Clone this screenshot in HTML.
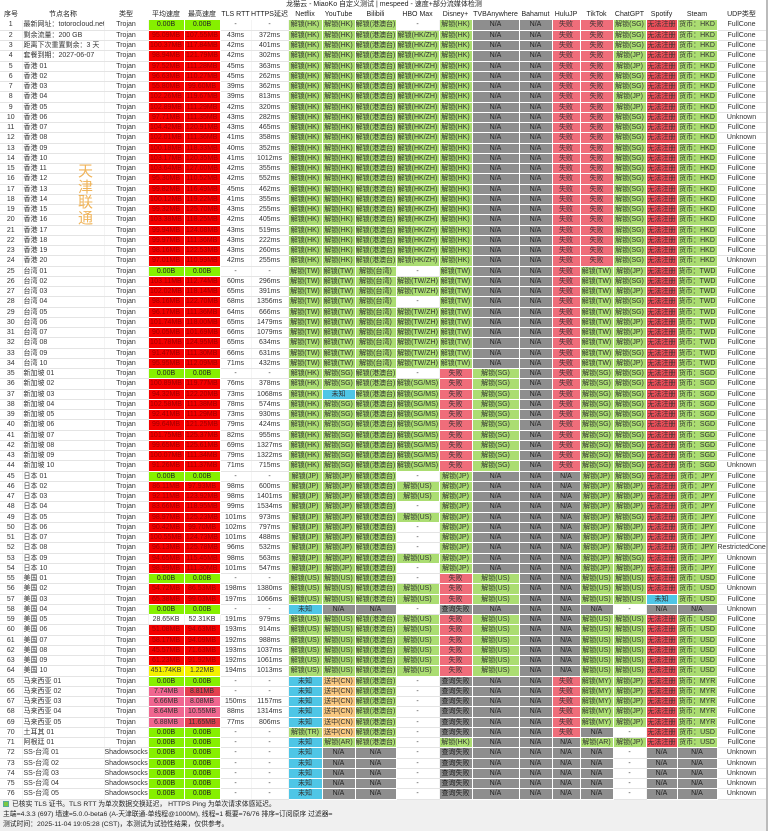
<!DOCTYPE html><html><head><meta charset="utf-8"><style>
*{margin:0;padding:0;box-sizing:border-box}
body{width:768px;height:831px;background:#fff;font-family:"Liberation Sans","Noto Sans CJK SC",sans-serif;position:relative;overflow:hidden;color:#333}
#title{position:absolute;left:0;top:0;width:768px;height:9px;font-size:7px;line-height:9px;text-align:center;color:#222}
table{position:absolute;left:0;top:9px;border-collapse:collapse;table-layout:fixed;width:766px}
td,th{font-size:7px;height:10.26px;line-height:9px;text-align:center;white-space:nowrap;overflow:hidden;border-bottom:1px solid #e4e4e4;border-right:1px solid #f4f4f4;padding:0;font-weight:normal}
th{height:11px;border:none;color:#222;font-size:7px}
td.l{text-align:left;padding-left:1px}
.g{background:#abdd72;border-color:#fff}
.r{background:#ef6d7a;border-color:#fff}
.d{background:#ea4d58;border-color:#fff}
.n{background:#8e8e8e;border-color:#fff;color:#222}
.b{background:#4fc6e6;border-color:#fff}
.o{background:#f8c880;border-color:#fff}
.sr{background:#f50000;color:#a00000;border-color:#fff}
.sg{background:#86f000;border-color:#fff;color:#222}
.sy{background:#f4f000;border-color:#fff}
.sp{background:#f06690;border-color:#fff}
.spd{background:#e4404f;border-color:#fff}
#wm{position:absolute;left:78px;top:163px;font-size:15px;line-height:15.5px;color:#f0b45a;width:16px;font-family:"Noto Sans CJK SC",sans-serif}
#foot{position:absolute;left:0;top:800px;width:768px;height:31px;background:#f0f0f0;font-size:6.8px;line-height:10px;padding-left:3px;color:#222}
#foot .cb{display:inline-block;width:6px;height:6px;background:#7ac943;border:1px solid #5a9;margin-right:3px;vertical-align:-1px}
#sb{position:absolute;right:0;top:0;width:2px;height:831px;background:#bbb}
</style></head><body>
<div id="title">龙猫云 - MiaoKo 自定义测试 | mespeed - 速度+部分流媒体检测</div>
<table>
<colgroup><col style="width:22px"><col style="width:82px"><col style="width:44px"><col style="width:36px"><col style="width:36px"><col style="width:31px"><col style="width:37px"><col style="width:34px"><col style="width:33px"><col style="width:41px"><col style="width:43px"><col style="width:33px"><col style="width:47px"><col style="width:33px"><col style="width:28px"><col style="width:33px"><col style="width:33px"><col style="width:31px"><col style="width:40px"><col style="width:49px"></colgroup>
<tr><th>序号</th><th>节点名称</th><th>类型</th><th>平均速度</th><th>最高速度</th><th>TLS RTT</th><th>HTTPS延迟</th><th>Netflix</th><th>YouTube</th><th>Bilibili</th><th>HBO Max</th><th>Disney+</th><th>TVBAnywhere</th><th>Bahamut</th><th>HuluJP</th><th>TikTok</th><th>ChatGPT</th><th>Spotify</th><th>Steam</th><th>UDP类型</th></tr>
<tr><td>1</td><td class=l>最新网址：totorocloud.net</td><td>Trojan</td><td class=sg>0.00B</td><td class=sg>0.00B</td><td>-</td><td>-</td><td class=g>解锁(HK)</td><td class=g>解锁(HK)</td><td class=g>解锁(港澳台)</td><td>-</td><td class=g>解锁(HK)</td><td class=n>N/A</td><td class=n>N/A</td><td class=r>失败</td><td class=r>失败</td><td class=g>解锁(SG)</td><td class=d>无法注册</td><td class=g>货币：HKD</td><td>FullCone</td></tr>
<tr><td>2</td><td class=l>剩余流量：200 GB</td><td>Trojan</td><td class=sr>95.09MB</td><td class=sr>107.55MB</td><td>43ms</td><td>372ms</td><td class=g>解锁(HK)</td><td class=g>解锁(HK)</td><td class=g>解锁(港澳台)</td><td class=g>解锁(HK/ZH)</td><td class=g>解锁(HK)</td><td class=n>N/A</td><td class=n>N/A</td><td class=r>失败</td><td class=r>失败</td><td class=g>解锁(SG)</td><td class=d>无法注册</td><td class=g>货币：HKD</td><td>FullCone</td></tr>
<tr><td>3</td><td class=l>距离下次重置剩余：3 天</td><td>Trojan</td><td class=sr>100.37MB</td><td class=sr>117.84MB</td><td>42ms</td><td>401ms</td><td class=g>解锁(HK)</td><td class=g>解锁(HK)</td><td class=g>解锁(港澳台)</td><td class=g>解锁(HK/ZH)</td><td class=g>解锁(HK)</td><td class=n>N/A</td><td class=n>N/A</td><td class=r>失败</td><td class=r>失败</td><td class=g>解锁(SG)</td><td class=d>无法注册</td><td class=g>货币：HKD</td><td>FullCone</td></tr>
<tr><td>4</td><td class=l>套餐到期：2027-06-07</td><td>Trojan</td><td class=sr>98.94MB</td><td class=sr>121.79MB</td><td>42ms</td><td>302ms</td><td class=g>解锁(HK)</td><td class=g>解锁(HK)</td><td class=g>解锁(港澳台)</td><td class=g>解锁(HK/ZH)</td><td class=g>解锁(HK)</td><td class=n>N/A</td><td class=n>N/A</td><td class=r>失败</td><td class=r>失败</td><td class=g>解锁(JP)</td><td class=d>无法注册</td><td class=g>货币：HKD</td><td>FullCone</td></tr>
<tr><td>5</td><td class=l>香港 01</td><td>Trojan</td><td class=sr>97.52MB</td><td class=sr>111.28MB</td><td>45ms</td><td>363ms</td><td class=g>解锁(HK)</td><td class=g>解锁(HK)</td><td class=g>解锁(港澳台)</td><td class=g>解锁(HK/ZH)</td><td class=g>解锁(HK)</td><td class=n>N/A</td><td class=n>N/A</td><td class=r>失败</td><td class=r>失败</td><td class=g>解锁(JP)</td><td class=d>无法注册</td><td class=g>货币：HKD</td><td>FullCone</td></tr>
<tr><td>6</td><td class=l>香港 02</td><td>Trojan</td><td class=sr>96.63MB</td><td class=sr>110.27MB</td><td>45ms</td><td>262ms</td><td class=g>解锁(HK)</td><td class=g>解锁(HK)</td><td class=g>解锁(港澳台)</td><td class=g>解锁(HK/ZH)</td><td class=g>解锁(HK)</td><td class=n>N/A</td><td class=n>N/A</td><td class=r>失败</td><td class=r>失败</td><td class=g>解锁(SG)</td><td class=d>无法注册</td><td class=g>货币：HKD</td><td>FullCone</td></tr>
<tr><td>7</td><td class=l>香港 03</td><td>Trojan</td><td class=sr>55.80MB</td><td class=sr>99.60MB</td><td>39ms</td><td>362ms</td><td class=g>解锁(HK)</td><td class=g>解锁(HK)</td><td class=g>解锁(港澳台)</td><td class=g>解锁(HK/ZH)</td><td class=g>解锁(HK)</td><td class=n>N/A</td><td class=n>N/A</td><td class=r>失败</td><td class=r>失败</td><td class=g>解锁(SG)</td><td class=d>无法注册</td><td class=g>货币：HKD</td><td>FullCone</td></tr>
<tr><td>8</td><td class=l>香港 04</td><td>Trojan</td><td class=sr>102.26MB</td><td class=sr>119.67MB</td><td>39ms</td><td>813ms</td><td class=g>解锁(HK)</td><td class=g>解锁(HK)</td><td class=g>解锁(港澳台)</td><td class=g>解锁(HK/ZH)</td><td class=g>解锁(HK)</td><td class=n>N/A</td><td class=n>N/A</td><td class=r>失败</td><td class=r>失败</td><td class=g>解锁(JP)</td><td class=d>无法注册</td><td class=g>货币：HKD</td><td>FullCone</td></tr>
<tr><td>9</td><td class=l>香港 05</td><td>Trojan</td><td class=sr>102.89MB</td><td class=sr>111.29MB</td><td>42ms</td><td>320ms</td><td class=g>解锁(HK)</td><td class=g>解锁(HK)</td><td class=g>解锁(港澳台)</td><td class=g>解锁(HK/ZH)</td><td class=g>解锁(HK)</td><td class=n>N/A</td><td class=n>N/A</td><td class=r>失败</td><td class=r>失败</td><td class=g>解锁(JP)</td><td class=d>无法注册</td><td class=g>货币：HKD</td><td>FullCone</td></tr>
<tr><td>10</td><td class=l>香港 06</td><td>Trojan</td><td class=sr>97.71MB</td><td class=sr>111.35MB</td><td>43ms</td><td>282ms</td><td class=g>解锁(HK)</td><td class=g>解锁(HK)</td><td class=g>解锁(港澳台)</td><td class=g>解锁(HK/ZH)</td><td class=g>解锁(HK)</td><td class=n>N/A</td><td class=n>N/A</td><td class=r>失败</td><td class=r>失败</td><td class=g>解锁(SG)</td><td class=d>无法注册</td><td class=g>货币：HKD</td><td>Unknown</td></tr>
<tr><td>11</td><td class=l>香港 07</td><td>Trojan</td><td class=sr>104.42MB</td><td class=sr>120.91MB</td><td>43ms</td><td>465ms</td><td class=g>解锁(HK)</td><td class=g>解锁(HK)</td><td class=g>解锁(港澳台)</td><td class=g>解锁(HK/ZH)</td><td class=g>解锁(HK)</td><td class=n>N/A</td><td class=n>N/A</td><td class=r>失败</td><td class=r>失败</td><td class=g>解锁(SG)</td><td class=d>无法注册</td><td class=g>货币：HKD</td><td>FullCone</td></tr>
<tr><td>12</td><td class=l>香港 08</td><td>Trojan</td><td class=sr>102.01MB</td><td class=sr>111.36MB</td><td>41ms</td><td>358ms</td><td class=g>解锁(HK)</td><td class=g>解锁(HK)</td><td class=g>解锁(港澳台)</td><td class=g>解锁(HK/ZH)</td><td class=g>解锁(HK)</td><td class=n>N/A</td><td class=n>N/A</td><td class=r>失败</td><td class=r>失败</td><td class=g>解锁(SG)</td><td class=d>无法注册</td><td class=g>货币：HKD</td><td>Unknown</td></tr>
<tr><td>13</td><td class=l>香港 09</td><td>Trojan</td><td class=sr>100.18MB</td><td class=sr>118.33MB</td><td>40ms</td><td>352ms</td><td class=g>解锁(HK)</td><td class=g>解锁(HK)</td><td class=g>解锁(港澳台)</td><td class=g>解锁(HK/ZH)</td><td class=g>解锁(HK)</td><td class=n>N/A</td><td class=n>N/A</td><td class=r>失败</td><td class=r>失败</td><td class=g>解锁(SG)</td><td class=d>无法注册</td><td class=g>货币：HKD</td><td>FullCone</td></tr>
<tr><td>14</td><td class=l>香港 10</td><td>Trojan</td><td class=sr>103.17MB</td><td class=sr>120.35MB</td><td>41ms</td><td>1012ms</td><td class=g>解锁(HK)</td><td class=g>解锁(HK)</td><td class=g>解锁(港澳台)</td><td class=g>解锁(HK/ZH)</td><td class=g>解锁(HK)</td><td class=n>N/A</td><td class=n>N/A</td><td class=r>失败</td><td class=r>失败</td><td class=g>解锁(SG)</td><td class=d>无法注册</td><td class=g>货币：HKD</td><td>FullCone</td></tr>
<tr><td>15</td><td class=l>香港 11</td><td>Trojan</td><td class=sr>103.64MB</td><td class=sr>127.00MB</td><td>42ms</td><td>355ms</td><td class=g>解锁(HK)</td><td class=g>解锁(HK)</td><td class=g>解锁(港澳台)</td><td class=g>解锁(HK/ZH)</td><td class=g>解锁(HK)</td><td class=n>N/A</td><td class=n>N/A</td><td class=r>失败</td><td class=r>失败</td><td class=g>解锁(SG)</td><td class=d>无法注册</td><td class=g>货币：HKD</td><td>FullCone</td></tr>
<tr><td>16</td><td class=l>香港 12</td><td>Trojan</td><td class=sr>95.30MB</td><td class=sr>110.52MB</td><td>42ms</td><td>552ms</td><td class=g>解锁(HK)</td><td class=g>解锁(HK)</td><td class=g>解锁(港澳台)</td><td class=g>解锁(HK/ZH)</td><td class=g>解锁(HK)</td><td class=n>N/A</td><td class=n>N/A</td><td class=r>失败</td><td class=r>失败</td><td class=g>解锁(SG)</td><td class=d>无法注册</td><td class=g>货币：HKD</td><td>FullCone</td></tr>
<tr><td>17</td><td class=l>香港 13</td><td>Trojan</td><td class=sr>99.82MB</td><td class=sr>116.49MB</td><td>45ms</td><td>462ms</td><td class=g>解锁(HK)</td><td class=g>解锁(HK)</td><td class=g>解锁(港澳台)</td><td class=g>解锁(HK/ZH)</td><td class=g>解锁(HK)</td><td class=n>N/A</td><td class=n>N/A</td><td class=r>失败</td><td class=r>失败</td><td class=g>解锁(SG)</td><td class=d>无法注册</td><td class=g>货币：HKD</td><td>FullCone</td></tr>
<tr><td>18</td><td class=l>香港 14</td><td>Trojan</td><td class=sr>100.12MB</td><td class=sr>119.22MB</td><td>41ms</td><td>355ms</td><td class=g>解锁(HK)</td><td class=g>解锁(HK)</td><td class=g>解锁(港澳台)</td><td class=g>解锁(HK/ZH)</td><td class=g>解锁(HK)</td><td class=n>N/A</td><td class=n>N/A</td><td class=r>失败</td><td class=r>失败</td><td class=g>解锁(SG)</td><td class=d>无法注册</td><td class=g>货币：HKD</td><td>FullCone</td></tr>
<tr><td>19</td><td class=l>香港 15</td><td>Trojan</td><td class=sr>99.32MB</td><td class=sr>125.70MB</td><td>43ms</td><td>255ms</td><td class=g>解锁(HK)</td><td class=g>解锁(HK)</td><td class=g>解锁(港澳台)</td><td class=g>解锁(HK/ZH)</td><td class=g>解锁(HK)</td><td class=n>N/A</td><td class=n>N/A</td><td class=r>失败</td><td class=r>失败</td><td class=g>解锁(SG)</td><td class=d>无法注册</td><td class=g>货币：HKD</td><td>FullCone</td></tr>
<tr><td>20</td><td class=l>香港 16</td><td>Trojan</td><td class=sr>103.38MB</td><td class=sr>118.25MB</td><td>42ms</td><td>405ms</td><td class=g>解锁(HK)</td><td class=g>解锁(HK)</td><td class=g>解锁(港澳台)</td><td class=g>解锁(HK/ZH)</td><td class=g>解锁(HK)</td><td class=n>N/A</td><td class=n>N/A</td><td class=r>失败</td><td class=r>失败</td><td class=g>解锁(SG)</td><td class=d>无法注册</td><td class=g>货币：HKD</td><td>FullCone</td></tr>
<tr><td>21</td><td class=l>香港 17</td><td>Trojan</td><td class=sr>99.94MB</td><td class=sr>124.08MB</td><td>43ms</td><td>519ms</td><td class=g>解锁(HK)</td><td class=g>解锁(HK)</td><td class=g>解锁(港澳台)</td><td class=g>解锁(HK/ZH)</td><td class=g>解锁(HK)</td><td class=n>N/A</td><td class=n>N/A</td><td class=r>失败</td><td class=r>失败</td><td class=g>解锁(SG)</td><td class=d>无法注册</td><td class=g>货币：HKD</td><td>FullCone</td></tr>
<tr><td>22</td><td class=l>香港 18</td><td>Trojan</td><td class=sr>99.97MB</td><td class=sr>111.36MB</td><td>43ms</td><td>222ms</td><td class=g>解锁(HK)</td><td class=g>解锁(HK)</td><td class=g>解锁(港澳台)</td><td class=g>解锁(HK/ZH)</td><td class=g>解锁(HK)</td><td class=n>N/A</td><td class=n>N/A</td><td class=r>失败</td><td class=r>失败</td><td class=g>解锁(SG)</td><td class=d>无法注册</td><td class=g>货币：HKD</td><td>FullCone</td></tr>
<tr><td>23</td><td class=l>香港 19</td><td>Trojan</td><td class=sr>98.16MB</td><td class=sr>122.53MB</td><td>43ms</td><td>260ms</td><td class=g>解锁(HK)</td><td class=g>解锁(HK)</td><td class=g>解锁(港澳台)</td><td class=g>解锁(HK/ZH)</td><td class=g>解锁(HK)</td><td class=n>N/A</td><td class=n>N/A</td><td class=r>失败</td><td class=r>失败</td><td class=g>解锁(SG)</td><td class=d>无法注册</td><td class=g>货币：HKD</td><td>FullCone</td></tr>
<tr><td>24</td><td class=l>香港 20</td><td>Trojan</td><td class=sr>97.01MB</td><td class=sr>110.99MB</td><td>42ms</td><td>255ms</td><td class=g>解锁(HK)</td><td class=g>解锁(HK)</td><td class=g>解锁(港澳台)</td><td class=g>解锁(HK/ZH)</td><td class=g>解锁(HK)</td><td class=n>N/A</td><td class=n>N/A</td><td class=r>失败</td><td class=r>失败</td><td class=g>解锁(SG)</td><td class=d>无法注册</td><td class=g>货币：HKD</td><td>Unknown</td></tr>
<tr><td>25</td><td class=l>台湾 01</td><td>Trojan</td><td class=sg>0.00B</td><td class=sg>0.00B</td><td>-</td><td>-</td><td class=g>解锁(TW)</td><td class=g>解锁(TW)</td><td class=g>解锁(台湾)</td><td>-</td><td class=g>解锁(TW)</td><td class=n>N/A</td><td class=n>N/A</td><td class=r>失败</td><td class=g>解锁(TW)</td><td class=g>解锁(JP)</td><td class=d>无法注册</td><td class=g>货币：TWD</td><td>FullCone</td></tr>
<tr><td>26</td><td class=l>台湾 02</td><td>Trojan</td><td class=sr>103.11MB</td><td class=sr>112.74MB</td><td>60ms</td><td>296ms</td><td class=g>解锁(TW)</td><td class=g>解锁(TW)</td><td class=g>解锁(台湾)</td><td class=g>解锁(TW/ZH)</td><td class=g>解锁(TW)</td><td class=n>N/A</td><td class=n>N/A</td><td class=r>失败</td><td class=g>解锁(TW)</td><td class=g>解锁(SG)</td><td class=d>无法注册</td><td class=g>货币：TWD</td><td>FullCone</td></tr>
<tr><td>27</td><td class=l>台湾 03</td><td>Trojan</td><td class=sr>102.02MB</td><td class=sr>118.14MB</td><td>65ms</td><td>391ms</td><td class=g>解锁(TW)</td><td class=g>解锁(TW)</td><td class=g>解锁(台湾)</td><td class=g>解锁(TW/ZH)</td><td class=g>解锁(TW)</td><td class=n>N/A</td><td class=n>N/A</td><td class=r>失败</td><td class=g>解锁(TW)</td><td class=g>解锁(JP)</td><td class=d>无法注册</td><td class=g>货币：TWD</td><td>FullCone</td></tr>
<tr><td>28</td><td class=l>台湾 04</td><td>Trojan</td><td class=sr>98.16MB</td><td class=sr>122.70MB</td><td>68ms</td><td>1356ms</td><td class=g>解锁(TW)</td><td class=g>解锁(TW)</td><td class=g>解锁(台湾)</td><td>-</td><td class=g>解锁(TW)</td><td class=n>N/A</td><td class=n>N/A</td><td class=r>失败</td><td class=g>解锁(TW)</td><td class=g>解锁(SG)</td><td class=d>无法注册</td><td class=g>货币：TWD</td><td>FullCone</td></tr>
<tr><td>29</td><td class=l>台湾 05</td><td>Trojan</td><td class=sr>96.17MB</td><td class=sr>111.36MB</td><td>64ms</td><td>666ms</td><td class=g>解锁(TW)</td><td class=g>解锁(TW)</td><td class=g>解锁(台湾)</td><td class=g>解锁(TW/ZH)</td><td class=g>解锁(TW)</td><td class=n>N/A</td><td class=n>N/A</td><td class=r>失败</td><td class=g>解锁(TW)</td><td class=g>解锁(SG)</td><td class=d>无法注册</td><td class=g>货币：TWD</td><td>FullCone</td></tr>
<tr><td>30</td><td class=l>台湾 06</td><td>Trojan</td><td class=sr>101.74MB</td><td class=sr>118.00MB</td><td>65ms</td><td>1479ms</td><td class=g>解锁(TW)</td><td class=g>解锁(TW)</td><td class=g>解锁(台湾)</td><td class=g>解锁(TW/ZH)</td><td class=g>解锁(TW)</td><td class=n>N/A</td><td class=n>N/A</td><td class=r>失败</td><td class=g>解锁(TW)</td><td class=g>解锁(JP)</td><td class=d>无法注册</td><td class=g>货币：TWD</td><td>FullCone</td></tr>
<tr><td>31</td><td class=l>台湾 07</td><td>Trojan</td><td class=sr>90.05MB</td><td class=sr>101.69MB</td><td>66ms</td><td>1079ms</td><td class=g>解锁(TW)</td><td class=g>解锁(TW)</td><td class=g>解锁(台湾)</td><td class=g>解锁(TW/ZH)</td><td class=g>解锁(TW)</td><td class=n>N/A</td><td class=n>N/A</td><td class=r>失败</td><td class=g>解锁(TW)</td><td class=g>解锁(JP)</td><td class=d>无法注册</td><td class=g>货币：TWD</td><td>FullCone</td></tr>
<tr><td>32</td><td class=l>台湾 08</td><td>Trojan</td><td class=sr>101.78MB</td><td class=sr>124.95MB</td><td>65ms</td><td>634ms</td><td class=g>解锁(TW)</td><td class=g>解锁(TW)</td><td class=g>解锁(台湾)</td><td class=g>解锁(TW/ZH)</td><td class=g>解锁(TW)</td><td class=n>N/A</td><td class=n>N/A</td><td class=r>失败</td><td class=g>解锁(TW)</td><td class=g>解锁(JP)</td><td class=d>无法注册</td><td class=g>货币：TWD</td><td>FullCone</td></tr>
<tr><td>33</td><td class=l>台湾 09</td><td>Trojan</td><td class=sr>91.47MB</td><td class=sr>111.30MB</td><td>66ms</td><td>631ms</td><td class=g>解锁(TW)</td><td class=g>解锁(TW)</td><td class=g>解锁(台湾)</td><td class=g>解锁(TW/ZH)</td><td class=g>解锁(TW)</td><td class=n>N/A</td><td class=n>N/A</td><td class=r>失败</td><td class=g>解锁(TW)</td><td class=g>解锁(SG)</td><td class=d>无法注册</td><td class=g>货币：TWD</td><td>FullCone</td></tr>
<tr><td>34</td><td class=l>台湾 10</td><td>Trojan</td><td class=sr>95.95MB</td><td class=sr>112.09MB</td><td>71ms</td><td>432ms</td><td class=g>解锁(TW)</td><td class=g>解锁(TW)</td><td class=g>解锁(台湾)</td><td class=g>解锁(TW/ZH)</td><td class=g>解锁(TW)</td><td class=n>N/A</td><td class=n>N/A</td><td class=r>失败</td><td class=g>解锁(TW)</td><td class=g>解锁(JP)</td><td class=d>无法注册</td><td class=g>货币：TWD</td><td>FullCone</td></tr>
<tr><td>35</td><td class=l>新加坡 01</td><td>Trojan</td><td class=sg>0.00B</td><td class=sg>0.00B</td><td>-</td><td>-</td><td class=g>解锁(HK)</td><td class=g>解锁(SG)</td><td class=g>解锁(港澳台)</td><td>-</td><td class=r>失败</td><td class=g>解锁(SG)</td><td class=n>N/A</td><td class=r>失败</td><td class=g>解锁(SG)</td><td class=g>解锁(SG)</td><td class=d>无法注册</td><td class=g>货币：SGD</td><td>FullCone</td></tr>
<tr><td>36</td><td class=l>新加坡 02</td><td>Trojan</td><td class=sr>100.89MB</td><td class=sr>119.77MB</td><td>76ms</td><td>378ms</td><td class=g>解锁(HK)</td><td class=g>解锁(SG)</td><td class=g>解锁(港澳台)</td><td class=g>解锁(SG/MS)</td><td class=r>失败</td><td class=g>解锁(SG)</td><td class=n>N/A</td><td class=r>失败</td><td class=g>解锁(SG)</td><td class=g>解锁(SG)</td><td class=d>无法注册</td><td class=g>货币：SGD</td><td>FullCone</td></tr>
<tr><td>37</td><td class=l>新加坡 03</td><td>Trojan</td><td class=sr>94.32MB</td><td class=sr>122.20MB</td><td>73ms</td><td>1068ms</td><td class=g>解锁(HK)</td><td class=b>未知</td><td class=g>解锁(港澳台)</td><td class=g>解锁(SG/MS)</td><td class=r>失败</td><td class=g>解锁(SG)</td><td class=n>N/A</td><td class=r>失败</td><td class=g>解锁(SG)</td><td class=g>解锁(SG)</td><td class=d>无法注册</td><td class=g>货币：SGD</td><td>FullCone</td></tr>
<tr><td>38</td><td class=l>新加坡 04</td><td>Trojan</td><td class=sr>102.58MB</td><td class=sr>111.38MB</td><td>78ms</td><td>574ms</td><td class=g>解锁(HK)</td><td class=g>解锁(SG)</td><td class=g>解锁(港澳台)</td><td class=g>解锁(SG/MS)</td><td class=r>失败</td><td class=g>解锁(SG)</td><td class=n>N/A</td><td class=r>失败</td><td class=g>解锁(SG)</td><td class=g>解锁(SG)</td><td class=d>无法注册</td><td class=g>货币：SGD</td><td>FullCone</td></tr>
<tr><td>39</td><td class=l>新加坡 05</td><td>Trojan</td><td class=sr>92.41MB</td><td class=sr>111.29MB</td><td>73ms</td><td>930ms</td><td class=g>解锁(HK)</td><td class=g>解锁(SG)</td><td class=g>解锁(港澳台)</td><td class=g>解锁(SG/MS)</td><td class=r>失败</td><td class=g>解锁(SG)</td><td class=n>N/A</td><td class=r>失败</td><td class=g>解锁(SG)</td><td class=g>解锁(SG)</td><td class=d>无法注册</td><td class=g>货币：SGD</td><td>FullCone</td></tr>
<tr><td>40</td><td class=l>新加坡 06</td><td>Trojan</td><td class=sr>99.64MB</td><td class=sr>121.25MB</td><td>79ms</td><td>424ms</td><td class=g>解锁(HK)</td><td class=g>解锁(SG)</td><td class=g>解锁(港澳台)</td><td class=g>解锁(SG/MS)</td><td class=r>失败</td><td class=g>解锁(SG)</td><td class=n>N/A</td><td class=r>失败</td><td class=g>解锁(SG)</td><td class=g>解锁(SG)</td><td class=d>无法注册</td><td class=g>货币：SGD</td><td>FullCone</td></tr>
<tr><td>41</td><td class=l>新加坡 07</td><td>Trojan</td><td class=sr>101.75MB</td><td class=sr>125.37MB</td><td>82ms</td><td>955ms</td><td class=g>解锁(HK)</td><td class=g>解锁(SG)</td><td class=g>解锁(港澳台)</td><td class=g>解锁(SG/MS)</td><td class=r>失败</td><td class=g>解锁(SG)</td><td class=n>N/A</td><td class=r>失败</td><td class=g>解锁(SG)</td><td class=g>解锁(SG)</td><td class=d>无法注册</td><td class=g>货币：SGD</td><td>FullCone</td></tr>
<tr><td>42</td><td class=l>新加坡 08</td><td>Trojan</td><td class=sr>99.65MB</td><td class=sr>125.61MB</td><td>69ms</td><td>1327ms</td><td class=g>解锁(HK)</td><td class=g>解锁(SG)</td><td class=g>解锁(港澳台)</td><td class=g>解锁(SG/MS)</td><td class=r>失败</td><td class=g>解锁(SG)</td><td class=n>N/A</td><td class=r>失败</td><td class=g>解锁(SG)</td><td class=g>解锁(SG)</td><td class=d>无法注册</td><td class=g>货币：SGD</td><td>FullCone</td></tr>
<tr><td>43</td><td class=l>新加坡 09</td><td>Trojan</td><td class=sr>100.07MB</td><td class=sr>111.34MB</td><td>79ms</td><td>1322ms</td><td class=g>解锁(HK)</td><td class=g>解锁(SG)</td><td class=g>解锁(港澳台)</td><td class=g>解锁(SG/MS)</td><td class=r>失败</td><td class=g>解锁(SG)</td><td class=n>N/A</td><td class=r>失败</td><td class=g>解锁(SG)</td><td class=g>解锁(SG)</td><td class=d>无法注册</td><td class=g>货币：SGD</td><td>FullCone</td></tr>
<tr><td>44</td><td class=l>新加坡 10</td><td>Trojan</td><td class=sr>91.26MB</td><td class=sr>111.37MB</td><td>71ms</td><td>715ms</td><td class=g>解锁(HK)</td><td class=g>解锁(SG)</td><td class=g>解锁(港澳台)</td><td class=g>解锁(SG/MS)</td><td class=r>失败</td><td class=g>解锁(SG)</td><td class=n>N/A</td><td class=r>失败</td><td class=g>解锁(SG)</td><td class=g>解锁(SG)</td><td class=d>无法注册</td><td class=g>货币：SGD</td><td>Unknown</td></tr>
<tr><td>45</td><td class=l>日本 01</td><td>Trojan</td><td class=sg>0.00B</td><td class=sg>0.00B</td><td>-</td><td>-</td><td class=g>解锁(JP)</td><td class=g>解锁(JP)</td><td class=g>解锁(港澳台)</td><td>-</td><td class=g>解锁(JP)</td><td class=n>N/A</td><td class=n>N/A</td><td class=n>N/A</td><td class=g>解锁(JP)</td><td class=g>解锁(SG)</td><td class=d>无法注册</td><td class=g>货币：JPY</td><td>FullCone</td></tr>
<tr><td>46</td><td class=l>日本 02</td><td>Trojan</td><td class=sr>86.11MB</td><td class=sr>97.93MB</td><td>98ms</td><td>600ms</td><td class=g>解锁(JP)</td><td class=g>解锁(JP)</td><td class=g>解锁(港澳台)</td><td class=g>解锁(US)</td><td class=g>解锁(JP)</td><td class=n>N/A</td><td class=n>N/A</td><td class=n>N/A</td><td class=g>解锁(JP)</td><td class=g>解锁(JP)</td><td class=d>无法注册</td><td class=g>货币：JPY</td><td>FullCone</td></tr>
<tr><td>47</td><td class=l>日本 03</td><td>Trojan</td><td class=sr>92.11MB</td><td class=sr>123.92MB</td><td>98ms</td><td>1401ms</td><td class=g>解锁(JP)</td><td class=g>解锁(JP)</td><td class=g>解锁(港澳台)</td><td class=g>解锁(US)</td><td class=g>解锁(JP)</td><td class=n>N/A</td><td class=n>N/A</td><td class=n>N/A</td><td class=g>解锁(JP)</td><td class=g>解锁(JP)</td><td class=d>无法注册</td><td class=g>货币：JPY</td><td>FullCone</td></tr>
<tr><td>48</td><td class=l>日本 04</td><td>Trojan</td><td class=sr>83.66MB</td><td class=sr>118.95MB</td><td>99ms</td><td>1534ms</td><td class=g>解锁(JP)</td><td class=g>解锁(JP)</td><td class=g>解锁(港澳台)</td><td>-</td><td class=g>解锁(JP)</td><td class=n>N/A</td><td class=n>N/A</td><td class=n>N/A</td><td class=g>解锁(JP)</td><td class=g>解锁(JP)</td><td class=d>无法注册</td><td class=g>货币：JPY</td><td>FullCone</td></tr>
<tr><td>49</td><td class=l>日本 05</td><td>Trojan</td><td class=sr>98.97MB</td><td class=sr>125.23MB</td><td>101ms</td><td>973ms</td><td class=g>解锁(JP)</td><td class=g>解锁(JP)</td><td class=g>解锁(港澳台)</td><td class=g>解锁(US)</td><td class=g>解锁(JP)</td><td class=n>N/A</td><td class=n>N/A</td><td class=n>N/A</td><td class=g>解锁(JP)</td><td class=g>解锁(SG)</td><td class=d>无法注册</td><td class=g>货币：JPY</td><td>FullCone</td></tr>
<tr><td>50</td><td class=l>日本 06</td><td>Trojan</td><td class=sr>90.42MB</td><td class=sr>99.70MB</td><td>102ms</td><td>797ms</td><td class=g>解锁(JP)</td><td class=g>解锁(JP)</td><td class=g>解锁(港澳台)</td><td>-</td><td class=g>解锁(JP)</td><td class=n>N/A</td><td class=n>N/A</td><td class=n>N/A</td><td class=g>解锁(JP)</td><td class=g>解锁(JP)</td><td class=d>无法注册</td><td class=g>货币：JPY</td><td>FullCone</td></tr>
<tr><td>51</td><td class=l>日本 07</td><td>Trojan</td><td class=sr>100.55MB</td><td class=sr>124.73MB</td><td>101ms</td><td>488ms</td><td class=g>解锁(JP)</td><td class=g>解锁(JP)</td><td class=g>解锁(港澳台)</td><td>-</td><td class=g>解锁(JP)</td><td class=n>N/A</td><td class=n>N/A</td><td class=n>N/A</td><td class=g>解锁(JP)</td><td class=g>解锁(JP)</td><td class=d>无法注册</td><td class=g>货币：JPY</td><td>FullCone</td></tr>
<tr><td>52</td><td class=l>日本 08</td><td>Trojan</td><td class=sr>96.13MB</td><td class=sr>125.78MB</td><td>96ms</td><td>532ms</td><td class=g>解锁(JP)</td><td class=g>解锁(JP)</td><td class=g>解锁(港澳台)</td><td>-</td><td class=g>解锁(JP)</td><td class=n>N/A</td><td class=n>N/A</td><td class=n>N/A</td><td class=g>解锁(JP)</td><td class=g>解锁(JP)</td><td class=d>无法注册</td><td class=g>货币：JPY</td><td>RestrictedCone</td></tr>
<tr><td>53</td><td class=l>日本 09</td><td>Trojan</td><td class=sr>94.65MB</td><td class=sr>115.45MB</td><td>98ms</td><td>563ms</td><td class=g>解锁(JP)</td><td class=g>解锁(JP)</td><td class=g>解锁(港澳台)</td><td class=g>解锁(US)</td><td class=g>解锁(JP)</td><td class=n>N/A</td><td class=n>N/A</td><td class=n>N/A</td><td class=g>解锁(JP)</td><td class=g>解锁(SG)</td><td class=d>无法注册</td><td class=g>货币：JPY</td><td>Unknown</td></tr>
<tr><td>54</td><td class=l>日本 10</td><td>Trojan</td><td class=sr>98.99MB</td><td class=sr>111.30MB</td><td>101ms</td><td>547ms</td><td class=g>解锁(JP)</td><td class=g>解锁(JP)</td><td class=g>解锁(港澳台)</td><td>-</td><td class=g>解锁(JP)</td><td class=n>N/A</td><td class=n>N/A</td><td class=n>N/A</td><td class=g>解锁(JP)</td><td class=g>解锁(JP)</td><td class=d>无法注册</td><td class=g>货币：JPY</td><td>FullCone</td></tr>
<tr><td>55</td><td class=l>美国 01</td><td>Trojan</td><td class=sg>0.00B</td><td class=sg>0.00B</td><td>-</td><td>-</td><td class=g>解锁(US)</td><td class=g>解锁(US)</td><td class=g>解锁(港澳台)</td><td>-</td><td class=r>失败</td><td class=g>解锁(US)</td><td class=n>N/A</td><td class=n>N/A</td><td class=g>解锁(US)</td><td class=g>解锁(US)</td><td class=d>无法注册</td><td class=g>货币：USD</td><td>FullCone</td></tr>
<tr><td>56</td><td class=l>美国 02</td><td>Trojan</td><td class=sr>54.72MB</td><td class=sr>86.53MB</td><td>198ms</td><td>1380ms</td><td class=g>解锁(US)</td><td class=g>解锁(US)</td><td class=g>解锁(港澳台)</td><td class=g>解锁(US)</td><td class=r>失败</td><td class=g>解锁(US)</td><td class=n>N/A</td><td class=n>N/A</td><td class=g>解锁(US)</td><td class=g>解锁(US)</td><td class=d>无法注册</td><td class=g>货币：USD</td><td>Unknown</td></tr>
<tr><td>57</td><td class=l>美国 03</td><td>Trojan</td><td class=sr>65.38MB</td><td class=sr>99.03MB</td><td>197ms</td><td>1066ms</td><td class=g>解锁(US)</td><td class=g>解锁(US)</td><td class=g>解锁(港澳台)</td><td class=g>解锁(US)</td><td class=r>失败</td><td class=g>解锁(US)</td><td class=n>N/A</td><td class=n>N/A</td><td class=g>解锁(US)</td><td class=g>解锁(US)</td><td class=b>未知</td><td class=g>货币：USD</td><td>FullCone</td></tr>
<tr><td>58</td><td class=l>美国 04</td><td>Trojan</td><td class=sg>0.00B</td><td class=sg>0.00B</td><td>-</td><td>-</td><td class=b>未知</td><td class=n>N/A</td><td class=n>N/A</td><td>-</td><td class=n>查询失败</td><td class=n>N/A</td><td class=n>N/A</td><td class=n>N/A</td><td class=n>N/A</td><td>-</td><td class=n>N/A</td><td class=n>N/A</td><td>Unknown</td></tr>
<tr><td>59</td><td class=l>美国 05</td><td>Trojan</td><td>28.65KB</td><td>52.31KB</td><td>191ms</td><td>979ms</td><td class=g>解锁(US)</td><td class=g>解锁(US)</td><td class=g>解锁(港澳台)</td><td class=g>解锁(US)</td><td class=r>失败</td><td class=g>解锁(US)</td><td class=n>N/A</td><td class=n>N/A</td><td class=g>解锁(US)</td><td class=g>解锁(US)</td><td class=d>无法注册</td><td class=g>货币：USD</td><td>FullCone</td></tr>
<tr><td>60</td><td class=l>美国 06</td><td>Trojan</td><td class=sr>51.08MB</td><td class=sr>94.63MB</td><td>193ms</td><td>914ms</td><td class=g>解锁(US)</td><td class=g>解锁(US)</td><td class=g>解锁(港澳台)</td><td class=g>解锁(US)</td><td class=r>失败</td><td class=g>解锁(US)</td><td class=n>N/A</td><td class=n>N/A</td><td class=g>解锁(US)</td><td class=g>解锁(US)</td><td class=d>无法注册</td><td class=g>货币：USD</td><td>FullCone</td></tr>
<tr><td>61</td><td class=l>美国 07</td><td>Trojan</td><td class=sr>58.17MB</td><td class=sr>94.09MB</td><td>192ms</td><td>988ms</td><td class=g>解锁(US)</td><td class=g>解锁(US)</td><td class=g>解锁(港澳台)</td><td class=g>解锁(US)</td><td class=r>失败</td><td class=g>解锁(US)</td><td class=n>N/A</td><td class=n>N/A</td><td class=g>解锁(US)</td><td class=g>解锁(US)</td><td class=d>无法注册</td><td class=g>货币：USD</td><td>FullCone</td></tr>
<tr><td>62</td><td class=l>美国 08</td><td>Trojan</td><td class=sr>45.57MB</td><td class=sr>71.63MB</td><td>193ms</td><td>1037ms</td><td class=g>解锁(US)</td><td class=g>解锁(US)</td><td class=g>解锁(港澳台)</td><td class=g>解锁(US)</td><td class=r>失败</td><td class=g>解锁(US)</td><td class=n>N/A</td><td class=n>N/A</td><td class=g>解锁(US)</td><td class=g>解锁(US)</td><td class=d>无法注册</td><td class=g>货币：USD</td><td>FullCone</td></tr>
<tr><td>63</td><td class=l>美国 09</td><td>Trojan</td><td class=sr>61.23MB</td><td class=sr>91.92MB</td><td>192ms</td><td>1061ms</td><td class=g>解锁(US)</td><td class=g>解锁(US)</td><td class=g>解锁(港澳台)</td><td class=g>解锁(US)</td><td class=r>失败</td><td class=g>解锁(US)</td><td class=n>N/A</td><td class=n>N/A</td><td class=g>解锁(US)</td><td class=g>解锁(US)</td><td class=d>无法注册</td><td class=g>货币：USD</td><td>FullCone</td></tr>
<tr><td>64</td><td class=l>美国 10</td><td>Trojan</td><td class=sy>451.74KB</td><td class=sy>1.22MB</td><td>194ms</td><td>1013ms</td><td class=g>解锁(US)</td><td class=g>解锁(US)</td><td class=g>解锁(港澳台)</td><td class=g>解锁(US)</td><td class=r>失败</td><td class=g>解锁(US)</td><td class=n>N/A</td><td class=n>N/A</td><td class=g>解锁(US)</td><td class=g>解锁(US)</td><td class=d>无法注册</td><td class=g>货币：USD</td><td>FullCone</td></tr>
<tr><td>65</td><td class=l>马来西亚 01</td><td>Trojan</td><td class=sg>0.00B</td><td class=sg>0.00B</td><td>-</td><td>-</td><td class=b>未知</td><td class=o>送中(CN)</td><td class=g>解锁(港澳台)</td><td>-</td><td class=n>查询失败</td><td class=n>N/A</td><td class=n>N/A</td><td class=r>失败</td><td class=g>解锁(MY)</td><td class=g>解锁(JP)</td><td class=d>无法注册</td><td class=g>货币：MYR</td><td>FullCone</td></tr>
<tr><td>66</td><td class=l>马来西亚 02</td><td>Trojan</td><td class=sp>7.74MB</td><td class=spd>8.81MB</td><td>-</td><td>-</td><td class=b>未知</td><td class=o>送中(CN)</td><td class=g>解锁(港澳台)</td><td>-</td><td class=n>查询失败</td><td class=n>N/A</td><td class=n>N/A</td><td class=r>失败</td><td class=g>解锁(MY)</td><td class=g>解锁(JP)</td><td class=d>无法注册</td><td class=g>货币：MYR</td><td>FullCone</td></tr>
<tr><td>67</td><td class=l>马来西亚 03</td><td>Trojan</td><td class=sp>6.66MB</td><td class=sp>8.08MB</td><td>150ms</td><td>1157ms</td><td class=b>未知</td><td class=o>送中(CN)</td><td class=g>解锁(港澳台)</td><td>-</td><td class=n>查询失败</td><td class=n>N/A</td><td class=n>N/A</td><td class=r>失败</td><td class=g>解锁(MY)</td><td class=g>解锁(JP)</td><td class=d>无法注册</td><td class=g>货币：MYR</td><td>FullCone</td></tr>
<tr><td>68</td><td class=l>马来西亚 04</td><td>Trojan</td><td class=sp>8.64MB</td><td class=sp>10.55MB</td><td>88ms</td><td>1314ms</td><td class=b>未知</td><td class=o>送中(CN)</td><td class=g>解锁(港澳台)</td><td>-</td><td class=n>查询失败</td><td class=n>N/A</td><td class=n>N/A</td><td class=r>失败</td><td class=g>解锁(MY)</td><td class=g>解锁(JP)</td><td class=d>无法注册</td><td class=g>货币：MYR</td><td>FullCone</td></tr>
<tr><td>69</td><td class=l>马来西亚 05</td><td>Trojan</td><td class=sp>6.88MB</td><td class=spd>11.65MB</td><td>77ms</td><td>806ms</td><td class=b>未知</td><td class=o>送中(CN)</td><td class=g>解锁(港澳台)</td><td>-</td><td class=n>查询失败</td><td class=n>N/A</td><td class=n>N/A</td><td class=r>失败</td><td class=g>解锁(MY)</td><td class=g>解锁(JP)</td><td class=d>无法注册</td><td class=g>货币：MYR</td><td>FullCone</td></tr>
<tr><td>70</td><td class=l>土耳其 01</td><td>Trojan</td><td class=sg>0.00B</td><td class=sg>0.00B</td><td>-</td><td>-</td><td class=g>解锁(TR)</td><td class=o>送中(CN)</td><td class=g>解锁(港澳台)</td><td>-</td><td class=n>查询失败</td><td class=n>N/A</td><td class=n>N/A</td><td class=r>失败</td><td class=n>N/A</td><td>-</td><td class=d>无法注册</td><td class=g>货币：USD</td><td>FullCone</td></tr>
<tr><td>71</td><td class=l>阿根廷 01</td><td>Trojan</td><td class=sg>0.00B</td><td class=sg>0.00B</td><td>-</td><td>-</td><td class=b>未知</td><td class=g>解锁(AR)</td><td class=g>解锁(港澳台)</td><td>-</td><td class=g>解锁(HK)</td><td class=n>N/A</td><td class=n>N/A</td><td class=n>N/A</td><td class=g>解锁(AR)</td><td class=g>解锁(JP)</td><td class=d>无法注册</td><td class=g>货币：USD</td><td>FullCone</td></tr>
<tr><td>72</td><td class=l>SS-台湾 01</td><td>Shadowsocks</td><td class=sg>0.00B</td><td class=sg>0.00B</td><td>-</td><td>-</td><td class=b>未知</td><td class=n>N/A</td><td class=n>N/A</td><td>-</td><td class=n>查询失败</td><td class=n>N/A</td><td class=n>N/A</td><td class=n>N/A</td><td class=n>N/A</td><td>-</td><td class=n>N/A</td><td class=n>N/A</td><td>Unknown</td></tr>
<tr><td>73</td><td class=l>SS-台湾 02</td><td>Shadowsocks</td><td class=sg>0.00B</td><td class=sg>0.00B</td><td>-</td><td>-</td><td class=b>未知</td><td class=n>N/A</td><td class=n>N/A</td><td>-</td><td class=n>查询失败</td><td class=n>N/A</td><td class=n>N/A</td><td class=n>N/A</td><td class=n>N/A</td><td>-</td><td class=n>N/A</td><td class=n>N/A</td><td>Unknown</td></tr>
<tr><td>74</td><td class=l>SS-台湾 03</td><td>Shadowsocks</td><td class=sg>0.00B</td><td class=sg>0.00B</td><td>-</td><td>-</td><td class=b>未知</td><td class=n>N/A</td><td class=n>N/A</td><td>-</td><td class=n>查询失败</td><td class=n>N/A</td><td class=n>N/A</td><td class=n>N/A</td><td class=n>N/A</td><td>-</td><td class=n>N/A</td><td class=n>N/A</td><td>Unknown</td></tr>
<tr><td>75</td><td class=l>SS-台湾 04</td><td>Shadowsocks</td><td class=sg>0.00B</td><td class=sg>0.00B</td><td>-</td><td>-</td><td class=b>未知</td><td class=n>N/A</td><td class=n>N/A</td><td>-</td><td class=n>查询失败</td><td class=n>N/A</td><td class=n>N/A</td><td class=n>N/A</td><td class=n>N/A</td><td>-</td><td class=n>N/A</td><td class=n>N/A</td><td>Unknown</td></tr>
<tr><td>76</td><td class=l>SS-台湾 05</td><td>Shadowsocks</td><td class=sg>0.00B</td><td class=sg>0.00B</td><td>-</td><td>-</td><td class=b>未知</td><td class=n>N/A</td><td class=n>N/A</td><td>-</td><td class=n>查询失败</td><td class=n>N/A</td><td class=n>N/A</td><td class=n>N/A</td><td class=n>N/A</td><td>-</td><td class=n>N/A</td><td class=n>N/A</td><td>Unknown</td></tr>
</table>
<div id="wm">天<br>津<br>联<br>通</div>
<div id="foot"><div><span class="cb"></span>已核实 TLS 证书。TLS RTT 为单次数据交换延迟， HTTPS Ping 为单次请求体感延迟。</div><div>主端=4.3.3 (697) 墙速=5.0.0-beta6 (A-天津联通-单线程@1000M), 线程=1 概要=76/76 排序=订阅原序 过滤器=</div><div>测试时间：2025-11-04 19:05:28 (CST)，本测试为试验性结果，仅供参考。</div></div>
<div id="sb"></div>
</body></html>
